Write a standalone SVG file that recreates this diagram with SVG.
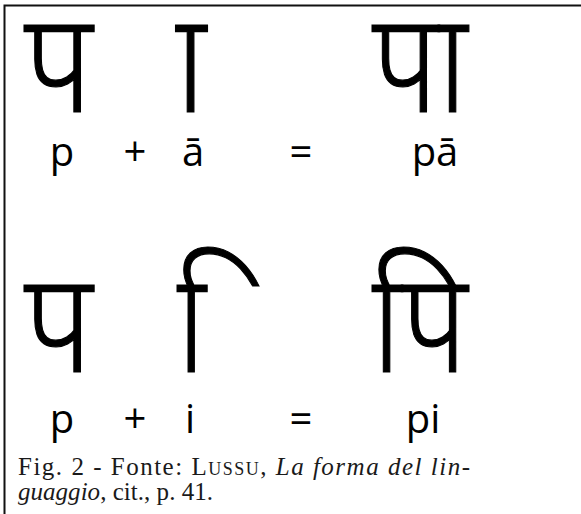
<svg xmlns="http://www.w3.org/2000/svg" width="581" height="514" viewBox="0 0 581 514">
<style>
.dev{font-family:"Noto Sans Devanagari","Lohit Devanagari","Noto Sans","DejaVu Sans",sans-serif;font-size:140px;font-weight:300;fill:#000;stroke:#000;stroke-width:1.2}
.lab{font-family:"Open Sans","Noto Sans",sans-serif;font-size:40px;font-weight:500;fill:#000}
.cap{font-family:"Liberation Serif",serif;font-size:25px;fill:#1a1a1a}
</style>
<rect width="581" height="514" fill="#fff"/>
<g id="frame"><path d="M4.5 514V5.5H581" fill="none" stroke="#111" stroke-width="2"/></g>
<g id="row1">
<text class="dev" transform="translate(24 112) scale(0.89 1)">प</text>
<text class="dev" transform="translate(143 112) scale(0.89 1)">&#160;&#x93E;</text>
<text class="dev" transform="translate(372 112) scale(0.86 1)">पा</text>
<text class="lab" x="62" y="166" text-anchor="middle">p</text>
<text class="lab" x="135" y="166" text-anchor="middle">+</text>
<text class="lab" x="193" y="166" text-anchor="middle">ā</text>
<text class="lab" x="301" y="166" text-anchor="middle">=</text>
<text class="lab" x="435" y="166" text-anchor="middle">pā</text>
</g>
<g id="row2">
<text class="dev" transform="translate(24 372) scale(0.89 1)">प</text>
<text class="dev" transform="translate(177 372) scale(0.84 1)">&#160;&#x93F;</text>
<text class="dev" transform="translate(372 372) scale(0.86 1)">पि</text>
<text class="lab" x="62" y="433" text-anchor="middle">p</text>
<text class="lab" x="135" y="433" text-anchor="middle">+</text>
<text class="lab" x="190" y="433" text-anchor="middle">i</text>
<text class="lab" x="301" y="433" text-anchor="middle">=</text>
<text class="lab" x="423" y="433" text-anchor="middle">pi</text>
</g>
<g id="caption">
<text class="cap" x="18" y="475" textLength="452" lengthAdjust="spacing">Fig. 2 - Fonte: <tspan font-variant="small-caps">Lussu</tspan>, <tspan font-style="italic">La forma del lin-</tspan></text>
<text class="cap" x="18" y="500" textLength="195" lengthAdjust="spacing"><tspan font-style="italic">guaggio</tspan>, cit., p. 41.</text>
</g>
</svg>
